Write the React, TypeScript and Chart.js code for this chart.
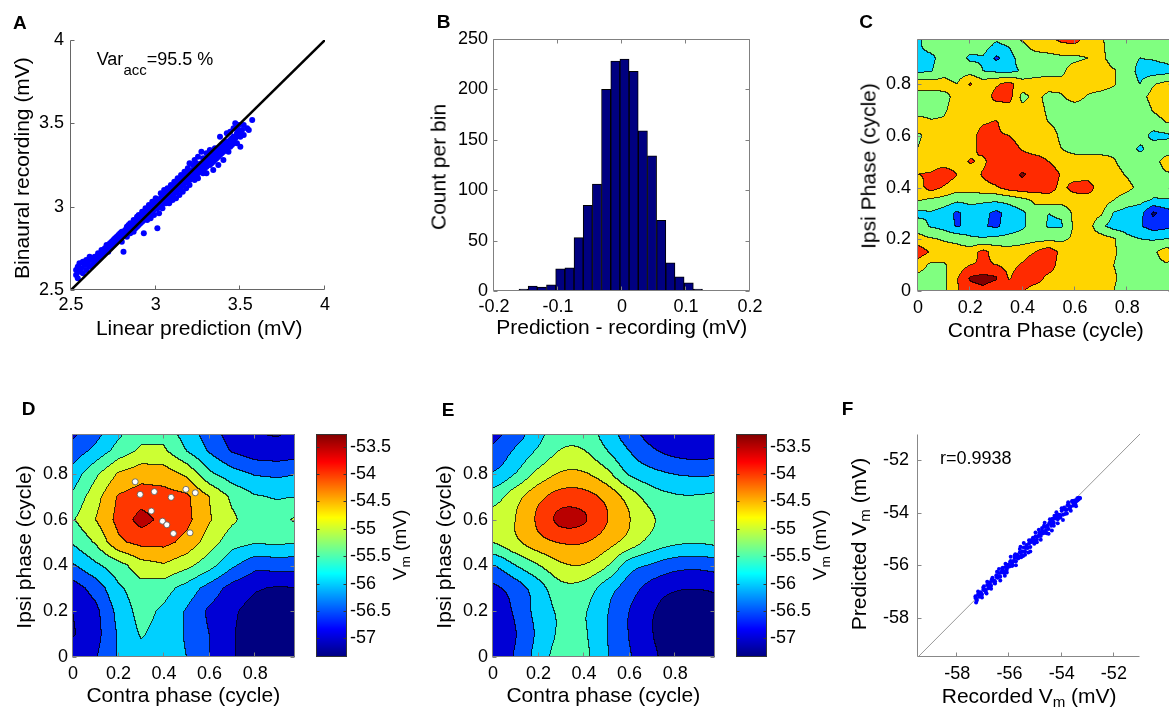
import React, { useEffect, useRef } from "react";
import { Chart, registerables } from "chart.js";
Chart.register(...registerables);

const FONT = "'Liberation Sans', Arial, Helvetica, sans-serif";

// ---------------- DATA ----------------
// A: linear prediction (x) vs binaural recording (y), mV
const scatterA: [number, number][] = [
[2.53,2.59],[2.53,2.62],[2.54,2.57],[2.54,2.64],[2.55,2.61],[2.55,2.66],[2.56,2.63],[2.57,2.6],[2.57,2.67],[2.58,2.65],
[2.59,2.62],[2.59,2.68],[2.6,2.66],[2.61,2.64],[2.61,2.7],[2.62,2.68],[2.63,2.65],[2.64,2.7],[2.64,2.67],[2.65,2.69],
[2.66,2.72],[2.66,2.68],[2.67,2.7],[2.68,2.74],[2.68,2.71],[2.69,2.72],[2.7,2.75],[2.7,2.72],[2.71,2.74],[2.71,2.77],
[2.72,2.73],[2.72,2.76],[2.73,2.78],[2.73,2.75],[2.74,2.76],[2.74,2.79],[2.75,2.77],[2.75,2.8],[2.76,2.81],[2.76,2.78],
[2.77,2.79],[2.77,2.82],[2.78,2.8],[2.78,2.83],[2.79,2.81],[2.79,2.84],[2.8,2.82],[2.8,2.85],[2.8,2.79],[2.81,2.73],
[2.81,2.84],[2.82,2.83],[2.82,2.86],[2.83,2.85],[2.83,2.88],[2.83,2.82],[2.84,2.86],[2.84,2.89],[2.85,2.87],[2.85,2.84],
[2.85,2.9],[2.86,2.88],[2.86,2.86],[2.87,2.89],[2.87,2.92],[2.87,2.85],[2.88,2.9],[2.88,2.87],[2.89,2.91],[2.89,2.94],
[2.89,2.88],[2.9,2.92],[2.9,2.89],[2.9,2.95],[2.91,2.93],[2.91,2.9],[2.92,2.94],[2.92,2.91],[2.92,2.97],[2.93,2.95],
[2.93,2.92],[2.93,2.84],[2.94,2.96],[2.94,2.93],[2.94,2.99],[2.95,2.97],[2.95,2.94],[2.95,2.92],[2.96,2.98],[2.96,2.95],
[2.96,3.01],[2.97,2.99],[2.97,2.96],[2.97,2.93],[2.98,3.0],[2.98,2.97],[2.98,3.03],[2.99,3.01],[2.99,2.98],[2.99,2.95],
[3.0,3.02],[3.0,2.99],[3.0,3.05],[3.01,2.87],[3.01,3.03],[3.01,2.99],[3.02,3.04],[3.02,3.0],[3.02,2.96],[3.03,3.05],
[3.03,3.01],[3.03,3.08],[3.04,3.06],[3.04,3.02],[3.04,2.99],[3.05,3.07],[3.05,3.03],[3.05,3.1],[3.06,3.06],[3.06,3.02],
[3.07,3.08],[3.07,3.04],[3.07,3.11],[3.08,3.09],[3.08,3.05],[3.08,3.02],[3.09,3.1],[3.09,3.06],[3.09,3.13],[3.1,3.11],
[3.1,3.07],[3.1,3.04],[3.11,3.12],[3.11,3.08],[3.11,3.15],[3.12,3.12],[3.12,3.09],[3.12,3.05],[3.13,3.14],[3.13,3.1],
[3.13,3.17],[3.14,3.14],[3.14,3.11],[3.14,3.07],[3.15,3.16],[3.15,3.12],[3.15,3.19],[3.16,3.16],[3.16,3.13],[3.16,3.09],
[3.17,3.18],[3.17,3.14],[3.17,3.21],[3.18,3.18],[3.18,3.15],[3.18,3.11],[3.19,3.2],[3.19,3.16],[3.19,3.23],[3.2,3.19],
[3.2,3.16],[3.2,3.13],[3.2,3.26],[3.21,3.21],[3.21,3.17],[3.22,3.22],[3.22,3.18],[3.22,3.25],[3.23,3.2],[3.23,3.16],
[3.23,3.28],[3.24,3.23],[3.24,3.19],[3.24,3.26],[3.25,3.24],[3.25,3.2],[3.25,3.17],[3.25,3.3],[3.26,3.25],[3.26,3.21],
[3.27,3.26],[3.27,3.22],[3.27,3.33],[3.28,3.25],[3.28,3.2],[3.28,3.29],[3.29,3.27],[3.29,3.23],[3.3,3.28],[3.3,3.24],
[3.3,3.2],[3.3,3.32],[3.31,3.27],[3.31,3.3],[3.32,3.29],[3.32,3.25],[3.32,3.34],[3.33,3.3],[3.33,3.26],[3.34,3.31],
[3.34,3.27],[3.34,3.22],[3.35,3.32],[3.35,3.28],[3.35,3.35],[3.36,3.33],[3.36,3.29],[3.37,3.34],[3.37,3.3],[3.37,3.25],
[3.38,3.35],[3.38,3.31],[3.38,3.42],[3.39,3.36],[3.39,3.32],[3.4,3.37],[3.4,3.33],[3.4,3.28],[3.41,3.38],[3.41,3.34],
[3.42,3.39],[3.42,3.35],[3.42,3.44],[3.43,3.37],[3.43,3.33],[3.44,3.4],[3.44,3.36],[3.44,3.45],[3.45,3.41],[3.45,3.37],
[3.46,3.42],[3.46,3.38],[3.46,3.47],[3.47,3.41],[3.47,3.5],[3.48,3.44],[3.48,3.38],[3.48,3.47],[3.49,3.43],[3.49,3.49],
[3.5,3.45],[3.5,3.42],[3.5,3.36],[3.51,3.46],[3.52,3.43],[3.52,3.49],[3.54,3.47],[3.55,3.46],[3.57,3.52]
];
const identityA: [number, number][] = [[2.5, 2.5], [4, 4]];
const ticksA = [2.5, 3, 3.5, 4];

// B: histogram of prediction - recording (mV)
const binCentersB = [-0.1538,-0.1395,-0.1252,-0.1108,-0.0965,-0.0821,-0.0678,-0.0535,-0.0391,-0.0248,
  -0.0104,0.0039,0.0182,0.0326,0.0469,0.0613,0.0756,0.0899,0.1043,0.1186];
const countsB = [2,5,4,6,22,23,53,85,106,200,228,230,218,159,134,70,28,14,8,2];
const ticksBx = [-0.2, -0.1, 0, 0.1, 0.2];
const ticksBy = [0, 50, 100, 150, 200, 250];

// C: residual map, rows = ipsi phase 0..1 (step 0.05), cols = contra phase 0..1 (step 0.05)
const residualStep = 0.05;
const residualC: number[][] = [
[0.2,0.2,0.3,1.4,2.2,2.3,2.0,2.0,1.6,1.0,1.0,1.0,1.0,1.0,0.8,0.5,0.1,0.0,0.0,0.2,0.2],
[0.2,0.1,0.3,1.4,2.6,2.8,2.6,1.4,2.1,2.0,1.2,1.0,1.0,1.0,0.9,0.6,0.2,0.0,0.0,0.1,0.1],
[1.0,0.3,0.4,0.9,1.5,1.6,1.5,1.2,1.6,2.2,2.1,1.0,1.0,1.0,0.8,0.5,0.1,0.0,0.2,0.4,0.2],
[2.1,1.4,1.0,1.0,1.0,1.8,1.1,1.0,1.1,1.5,2.2,1.2,1.0,1.0,0.9,0.6,0.2,0.1,0.3,1.0,0.5],
[0.9,0.6,0.4,0.2,-0.3,-0.4,-0.2,-0.2,0.0,0.2,0.2,0.3,0.7,1.0,1.0,0.6,-0.2,-0.5,-0.6,-0.5,-0.3],
[0.0,-0.6,-0.9,-1.6,-1.2,-1.4,-1.7,-1.0,-0.7,0.0,-0.6,-0.6,0.7,1.0,-0.3,-0.9,-1.0,-1.4,-2.0,-1.8,-1.5],
[-0.8,-0.6,-1.0,-1.7,-1.0,-1.2,-1.8,-1.1,-0.7,0.1,-0.5,-0.4,0.8,1.0,0.7,-0.6,-0.9,-1.1,-2.7,-2.0,-1.6],
[0.6,0.3,0.1,-0.3,-0.2,-0.3,-0.3,-0.2,0.2,0.7,1.0,1.0,1.0,1.0,1.0,0.5,0.0,-0.2,-0.6,-0.6,-0.4],
[1.0,2.0,1.4,1.0,1.0,1.2,1.4,2.0,2.2,2.1,2.0,1.2,1.9,2.0,1.0,1.0,0.8,0.2,0.0,0.1,0.1],
[1.5,1.6,2.1,1.5,1.0,1.6,2.1,2.2,2.6,2.2,2.1,1.4,1.0,1.0,1.0,0.9,0.4,0.0,0.0,0.4,0.5],
[1.0,1.0,1.0,1.0,1.6,1.3,2.0,2.1,2.0,2.0,1.5,1.0,1.0,1.0,1.0,0.6,0.0,0.0,0.1,0.9,0.8],
[0.5,0.8,1.0,1.0,1.2,1.8,2.0,2.0,1.4,1.0,1.0,0.5,0.1,0.0,0.0,0.2,0.0,-0.7,0.0,0.0,0.2],
[0.4,0.7,1.0,1.0,1.0,2.0,1.6,1.5,1.0,1.0,1.0,0.3,0.0,0.0,0.0,0.0,0.0,0.0,-0.8,-0.7,-0.3],
[0.9,0.6,0.6,0.8,1.0,1.4,1.6,1.0,1.0,1.0,0.5,0.2,0.0,0.0,0.0,0.0,0.0,-0.4,0.0,0.5,0.6],
[0.1,0.2,0.4,0.8,1.0,1.0,1.0,1.0,0.8,1.0,0.3,0.0,0.0,0.0,0.0,0.0,0.0,-0.4,0.6,1.0,1.0],
[0.0,0.0,0.3,0.7,0.9,1.0,1.8,1.9,0.2,0.8,0.2,0.4,0.9,0.4,0.1,0.0,0.0,0.1,0.9,1.0,0.8],
[1.0,1.0,0.8,0.5,1.6,1.0,1.4,1.8,1.0,1.0,1.0,0.8,1.0,1.0,1.0,0.6,0.0,-0.5,0.4,0.8,0.6],
[-0.7,-0.6,0.2,0.0,0.1,-0.5,-0.7,-0.8,-0.4,0.0,0.1,0.3,0.9,1.0,1.0,0.6,0.0,-0.8,-1.0,-0.9,-0.5],
[-0.8,-0.8,0.0,0.0,-0.7,-0.6,-1.7,-0.9,0.0,0.1,0.2,0.3,0.3,0.5,0.8,0.0,-0.2,-0.5,-0.4,-0.2,0.0],
[-0.7,0.0,0.0,0.0,0.0,0.0,-0.7,-0.4,0.3,0.9,1.0,1.3,1.4,1.0,0.7,0.0,0.0,-0.2,0.0,-0.4,0.0],
[-0.8,0.0,0.8,0.0,0.0,0.0,0.0,0.8,1.0,1.0,1.2,2.4,2.4,1.0,0.6,0.0,0.0,0.0,0.0,-0.6,0.0]
];
const levelsC = [-2.5, -1.5, -0.5, 0.5, 1.5, 2.5];
const phaseTicks = [0, 0.2, 0.4, 0.6, 0.8];

// D / E: Vm maps (mV), rows = ipsi phase 0..1 (step 0.1), cols = contra phase 0..1 (step 0.1)
const vmStep = 0.1;
const recordedVm: number[][] = [
[-56.75,-56.55,-55.95,-55.7,-55.75,-56.0,-56.5,-56.95,-57.25,-57.3,-57.3],
[-57.05,-56.7,-55.95,-55.45,-55.7,-56.05,-56.5,-56.95,-57.3,-57.33,-57.3],
[-57.0,-56.65,-55.85,-55.3,-55.6,-56.05,-56.6,-56.92,-57.2,-57.3,-57.25],
[-56.75,-56.3,-55.6,-55.2,-55.3,-55.7,-56.2,-56.7,-56.95,-57.05,-57.0],
[-56.05,-55.6,-55.2,-54.7,-54.55,-54.85,-55.3,-55.9,-56.35,-56.3,-56.3],
[-55.45,-54.95,-54.1,-53.85,-53.85,-54.15,-54.75,-55.3,-55.45,-55.4,-55.5],
[-55.05,-54.5,-53.85,-53.3,-53.65,-53.85,-54.45,-54.9,-55.3,-55.2,-54.85],
[-55.4,-54.7,-53.95,-53.75,-53.8,-53.9,-54.5,-55.1,-55.45,-55.55,-55.5],
[-55.8,-55.1,-54.45,-54.2,-54.25,-54.6,-55.4,-55.8,-56.05,-56.1,-56.0],
[-56.3,-55.85,-55.3,-54.9,-54.9,-55.5,-56.05,-56.55,-56.8,-56.85,-56.75],
[-56.7,-56.3,-55.7,-55.25,-55.3,-55.8,-56.3,-56.8,-57.05,-57.1,-56.9]
];
const modelVm: number[][] = [
[-56.85,-56.45,-55.8,-55.3,-55.38,-55.95,-56.45,-56.9,-57.2,-57.28,-57.2],
[-56.9,-56.52,-55.9,-55.42,-55.44,-55.97,-56.52,-56.98,-57.28,-57.33,-57.2],
[-56.85,-56.42,-55.82,-55.42,-55.45,-55.95,-56.5,-56.95,-57.25,-57.3,-57.15],
[-56.6,-56.25,-55.72,-55.15,-55.2,-55.75,-56.25,-56.7,-56.93,-56.97,-56.9],
[-56.0,-55.5,-55.02,-54.58,-54.52,-54.95,-55.75,-56.05,-56.3,-56.35,-56.25],
[-55.0,-54.62,-54.2,-53.97,-53.98,-54.3,-54.72,-55.2,-55.42,-55.47,-55.4],
[-54.8,-54.5,-53.92,-53.38,-53.45,-53.97,-54.48,-54.95,-55.22,-55.28,-55.15],
[-55.25,-54.7,-54.15,-53.8,-53.82,-54.15,-54.72,-55.25,-55.45,-55.47,-55.4],
[-55.95,-55.48,-54.85,-54.45,-54.45,-54.85,-55.55,-55.85,-56.02,-56.08,-56.05],
[-56.4,-55.92,-55.42,-54.97,-54.98,-55.47,-56.0,-56.42,-56.65,-56.72,-56.65],
[-56.65,-56.35,-55.7,-55.25,-55.3,-55.75,-56.35,-56.75,-56.9,-56.9,-56.8]
];
const vmLevels = [-57, -56.5, -56, -55.5, -55, -54.5, -54, -53.5];
const vmTicks = [-53.5, -54, -54.5, -55, -55.5, -56, -56.5, -57];
const vmRange = [-57.34, -53.27];
const peakMarkersD: [number, number][] = [
[0.273,0.766],[0.295,0.711],[0.357,0.723],[0.431,0.698],[0.496,0.733],[0.537,0.718],
[0.344,0.638],[0.393,0.594],[0.412,0.578],[0.441,0.54],[0.514,0.543]
];

// F: recorded vs predicted Vm (mV)
const scatterF: [number, number][] = [
[-57.3,-57.25],[-57.25,-57.29],[-57.2,-57.12],[-57.15,-57.17],[-57.1,-57.07],[-57.05,-57.12],[-57.0,-56.94],[-56.95,-56.95],
[-56.9,-56.95],[-56.85,-56.76],[-56.8,-56.83],[-56.75,-56.71],[-56.7,-56.78],[-56.65,-56.58],[-56.6,-56.59],[-56.55,-56.61],
[-56.5,-56.45],[-56.45,-56.46],[-56.4,-56.3],[-56.35,-56.44],[-56.3,-56.28],[-56.25,-56.19],[-56.2,-56.24],[-56.15,-56.07],
[-56.1,-56.17],[-56.05,-56.02],[-56.0,-56.02],[-55.95,-55.84],[-55.9,-55.95],[-55.85,-55.85],[-55.8,-55.73],[-55.75,-55.85],
[-55.7,-55.66],[-55.65,-55.68],[-55.6,-55.51],[-55.55,-55.61],[-55.5,-55.49],[-55.45,-55.33],[-55.4,-55.48],[-55.35,-55.3],
[-55.3,-55.32],[-55.25,-55.17],[-55.2,-55.31],[-55.15,-55.12],[-55.1,-55.04],[-55.05,-55.1],[-55.0,-54.9],[-54.95,-55.02],
[-54.9,-54.9],[-54.85,-54.81],[-54.8,-54.89],[-54.75,-54.68],[-54.7,-54.73],[-54.65,-54.54],[-54.6,-54.66],[-54.55,-54.53],
[-54.5,-54.62],[-54.45,-54.37],[-54.4,-54.44],[-54.35,-54.3],[-54.3,-54.38],[-54.25,-54.22],[-54.2,-54.11],[-54.15,-54.25],
[-54.1,-54.09],[-54.05,-54.1],[-54.0,-53.93],[-53.95,-54.08],[-53.9,-53.86],[-53.85,-53.87],[-53.8,-53.89],[-53.75,-53.69],
[-53.7,-53.76],[-53.65,-53.76],[-53.6,-53.58],[-53.55,-53.62],[-53.5,-53.53],[-53.45,-53.57],[-53.4,-53.45],[-53.35,-53.44],
[-53.3,-53.44],
[-57.3,-57.18],[-57.25,-57.35],[-57.2,-57.0],[-57.15,-57.2],[-57.1,-57.03],[-57.05,-57.23],[-57.0,-56.85],[-56.95,-56.95],
[-56.9,-57.03],[-56.85,-56.63],[-56.8,-56.88],[-56.75,-56.65],[-56.7,-56.9],[-56.65,-56.48],[-56.6,-56.58],[-56.55,-56.7],
[-56.5,-56.38],[-56.45,-56.48],[-56.4,-56.15],[-56.35,-56.58],[-56.3,-56.25],[-56.25,-56.1],[-56.2,-56.3],[-56.15,-55.95],
[-56.1,-56.28],[-56.05,-55.98],[-56.0,-56.05],[-55.95,-55.68],[-55.9,-56.03],[-55.85,-55.85],[-55.8,-55.63],[-55.75,-56.0],
[-55.7,-55.6],[-55.65,-55.73],[-55.6,-55.38],[-55.55,-55.7],[-55.5,-55.48],[-55.45,-55.15],[-55.4,-55.6],[-55.35,-55.23],
[-55.3,-55.35],[-55.25,-55.05],[-55.2,-55.48],[-55.15,-55.08],[-55.1,-54.95],[-55.05,-55.18],[-55.0,-54.75],[-54.95,-55.13],
[-54.9,-54.9],[-54.85,-54.75],[-54.8,-55.03],[-54.75,-54.58],[-54.7,-54.78],[-54.65,-54.38],[-54.6,-54.75],[-54.55,-54.5],
[-54.5,-54.8],[-54.45,-54.25],[-54.4,-54.5],[-54.35,-54.23],[-54.3,-54.5],[-54.25,-54.18],[-54.2,-53.98],[-54.15,-54.4],
[-54.1,-54.08],[-54.05,-54.18],[-54.0,-53.83],[-53.95,-54.28],[-53.9,-53.8],[-53.85,-53.9],[-53.8,-54.03],[-53.75,-53.6],
[-53.7,-53.85],[-53.65,-53.93],[-53.6,-53.55],[-53.55,-53.73],[-53.5,-53.58],[-53.45,-53.75],[-53.4,-53.53],[-53.35,-53.5],
[-53.3,-53.45],
[-57.275,-57.42],[-57.175,-57.1],[-57.075,-57.1],[-56.975,-56.8],[-56.875,-57.08],[-56.775,-56.72],[-56.675,-56.55],
[-56.575,-56.68],[-56.475,-56.25],[-56.375,-56.42],[-56.275,-56.12],[-56.175,-56.4],[-56.075,-56.08],[-55.975,-55.88],
[-55.875,-56.0],[-55.775,-55.58],[-55.675,-55.75],[-55.575,-55.3],[-55.475,-55.65],[-55.375,-55.35],[-55.275,-55.52],
[-55.175,-55.05],[-55.075,-55.02],[-54.975,-55.12],[-54.875,-54.65],[-54.775,-54.8],[-54.675,-54.5],[-54.575,-54.78],
[-54.475,-54.4],[-54.375,-54.68],[-54.275,-54.12],[-54.175,-54.18],[-54.075,-54.18],[-53.975,-53.85],[-53.875,-54.05],
[-53.775,-53.72],[-53.675,-53.8],[-53.575,-53.55],[-53.475,-53.68],[-53.375,-53.45]
];
const identityF: [number, number][] = [[-59.5, -59.5], [-51, -51]];
const ticksF = [-58, -56, -54, -52];

// ---------------- helpers ----------------
type Frame = { L: number; T: number; R: number; B: number };

function jet(t: number): number[] {
  const c = (v: number) => Math.max(0, Math.min(1, v));
  return [c(1.5 - Math.abs(4 * t - 3)), c(1.5 - Math.abs(4 * t - 2)), c(1.5 - Math.abs(4 * t - 1))];
}
const to255 = (c: number[]) => c.map((v) => Math.round(v * 255));
const vmBounds = [vmRange[0], ...vmLevels];
const vmFill = vmBounds.map((v) => to255(jet((v - vmRange[0]) / (vmRange[1] - vmRange[0]))));
const cFill = [0, 1, 2, 3, 4, 5, 6].map((k) => to255(jet(k / 6)));

function bilinear(g: number[][], step: number, x: number, y: number) {
  const nx = g[0].length, ny = g.length;
  const fx = x / step, fy = y / step;
  const i = Math.min(Math.max(Math.floor(fx), 0), nx - 2);
  const j = Math.min(Math.max(Math.floor(fy), 0), ny - 2);
  const tx = fx - i, ty = fy - j;
  return g[j][i] * (1 - tx) * (1 - ty) + g[j][i + 1] * tx * (1 - ty) + g[j + 1][i] * (1 - tx) * ty + g[j + 1][i + 1] * tx * ty;
}
function cr(p0: number, p1: number, p2: number, p3: number, t: number) {
  return 0.5 * (2 * p1 + (-p0 + p2) * t + (2 * p0 - 5 * p1 + 4 * p2 - p3) * t * t + (-p0 + 3 * p1 - 3 * p2 + p3) * t * t * t);
}
function bicubic(g: number[][], step: number, x: number, y: number) {
  const nx = g[0].length, ny = g.length;
  const fx = x / step, fy = y / step;
  const i = Math.min(Math.max(Math.floor(fx), 0), nx - 2);
  const j = Math.min(Math.max(Math.floor(fy), 0), ny - 2);
  const tx = fx - i, ty = fy - j;
  const G = (jj: number, ii: number) => g[Math.min(Math.max(jj, 0), ny - 1)][Math.min(Math.max(ii, 0), nx - 1)];
  const row = (jj: number) => cr(G(jj, i - 1), G(jj, i), G(jj, i + 1), G(jj, i + 2), tx);
  return cr(row(j - 1), row(j), row(j + 1), row(j + 2), ty);
}

function fieldPlugin(sample: (x: number, y: number) => number, levels: number[], fills: number[][]) {
  return {
    id: "field",
    beforeDatasetsDraw(chart: any) {
      const { ctx, chartArea: a, scales } = chart;
      const xs = scales.x, ys = scales.y;
      const x0 = Math.round(a.left), y0 = Math.round(a.top);
      const w = Math.round(a.right) - x0, h = Math.round(a.bottom) - y0;
      const lv = new Uint8Array(w * h);
      const xv = new Float64Array(w);
      for (let px = 0; px < w; px++) xv[px] = xs.getValueForPixel(x0 + px + 0.5);
      for (let py = 0; py < h; py++) {
        const yv = ys.getValueForPixel(y0 + py + 0.5);
        for (let px = 0; px < w; px++) {
          const v = sample(xv[px], yv);
          let k = 0;
          while (k < levels.length && v >= levels[k]) k++;
          lv[py * w + px] = k;
        }
      }
      const img = ctx.createImageData(w, h);
      for (let py = 0; py < h; py++) {
        for (let px = 0; px < w; px++) {
          const i = py * w + px;
          const k = lv[i];
          const col = fills[k];
          const edge = (px < w - 1 && lv[i + 1] !== k) || (py < h - 1 && lv[i + w] !== k);
          const f = edge ? 0.22 : 1;
          img.data[i * 4] = col[0] * f;
          img.data[i * 4 + 1] = col[1] * f;
          img.data[i * 4 + 2] = col[2] * f;
          img.data[i * 4 + 3] = 255;
        }
      }
      ctx.putImageData(img, x0, y0);
    },
  };
}

function framePlugin(box: boolean, color = "#808080", len = 4) {
  return {
    id: "frame",
    afterDatasetsDraw(chart: any) {
      const { ctx, chartArea: a, scales } = chart;
      const xs = scales.x, ys = scales.y;
      const l = Math.round(a.left) - 0.5, r = Math.round(a.right) - 0.5;
      const t = Math.round(a.top) + 0.5, b = Math.round(a.bottom) - 0.5;
      ctx.save();
      ctx.strokeStyle = color;
      ctx.lineWidth = 1;
      ctx.beginPath();
      if (box) {
        ctx.rect(l, t, r - l, b - t);
      } else {
        ctx.moveTo(l, t); ctx.lineTo(l, b); ctx.lineTo(r, b);
      }
      for (const tk of xs.ticks) {
        const px = Math.round(xs.getPixelForValue(tk.value)) - 0.5;
        ctx.moveTo(px, b); ctx.lineTo(px, b - len);
        if (box) { ctx.moveTo(px, t); ctx.lineTo(px, t + len); }
      }
      for (const tk of ys.ticks) {
        const py = Math.round(ys.getPixelForValue(tk.value)) + 0.5;
        ctx.moveTo(l, py); ctx.lineTo(l + len, py);
        if (box) { ctx.moveTo(r, py); ctx.lineTo(r - len, py); }
      }
      ctx.stroke();
      ctx.restore();
    },
  };
}

function axis(pos: string, min: number, max: number, ticks: number[], pad: number, size: number) {
  return {
    type: "linear",
    position: pos,
    min,
    max,
    offset: false,
    grid: { display: false, drawTicks: false },
    border: { display: false },
    ticks: {
      padding: pad,
      color: "#000",
      font: { family: FONT, size: 18 },
      autoSkip: false,
      maxRotation: 0,
      callback: (v: any) => String(v),
    },
    afterBuildTicks: (s: any) => { s.ticks = ticks.map((value) => ({ value })); },
    afterFit: (s: any) => {
      if (pos === "left" || pos === "right") s.width = size; else s.height = size;
    },
  };
}

const pts = (arr: [number, number][]) => arr.map(([x, y]) => ({ x, y }));

function PanelChart({ f, W, H, padTop = 22, padRight = 20, make }: { f: Frame; W: number; H: number; padTop?: number; padRight?: number; make: () => any }) {
  const ref = useRef<HTMLCanvasElement>(null);
  const cw = Math.round(W + (f.R - f.L) + padRight);
  const ch = Math.round(padTop + (f.B - f.T) + H);
  useEffect(() => {
    const cfg = make();
    cfg.options = {
      ...(cfg.options || {}),
      responsive: false,
      animation: false,
      devicePixelRatio: 1,
      events: [],
      layout: { padding: { top: padTop, right: padRight, left: 0, bottom: 0 } },
      plugins: { legend: { display: false }, tooltip: { enabled: false } },
    };
    const chart = new Chart(ref.current as HTMLCanvasElement, cfg);
    return () => chart.destroy();
  }, []);
  return <canvas ref={ref} width={cw} height={ch} style={{ position: "absolute", left: f.L - W, top: f.T - padTop, width: cw, height: ch }} />;
}

function Colorbar({ f, W }: { f: Frame; W: number }) {
  const ref = useRef<HTMLCanvasElement>(null);
  const pad = 16;
  const cw = Math.round(f.R - f.L + W);
  const ch = Math.round(f.B - f.T + 2 * pad);
  useEffect(() => {
    const grad = {
      id: "grad",
      beforeDatasetsDraw(chart: any) {
        const { ctx, chartArea: a, scales } = chart;
        const ys = scales.y;
        for (let py = Math.round(a.top); py < Math.round(a.bottom); py++) {
          const v = ys.getValueForPixel(py + 0.5);
          const c = to255(jet((v - vmRange[0]) / (vmRange[1] - vmRange[0])));
          ctx.fillStyle = `rgb(${c[0]},${c[1]},${c[2]})`;
          ctx.fillRect(a.left, py, a.right - a.left, 1);
        }
      },
      afterDatasetsDraw(chart: any) {
        const { ctx, chartArea: a, scales } = chart;
        const ys = scales.y;
        const l = Math.round(a.left) + 0.5, r = Math.round(a.right) - 0.5;
        const t = Math.round(a.top) + 0.5, b = Math.round(a.bottom) - 0.5;
        ctx.save();
        ctx.strokeStyle = "#333";
        ctx.lineWidth = 1;
        ctx.beginPath();
        ctx.rect(l, t, r - l, b - t);
        for (const tk of ys.ticks) {
          const py = Math.round(ys.getPixelForValue(tk.value)) + 0.5;
          ctx.moveTo(l, py); ctx.lineTo(l + 3, py);
          ctx.moveTo(r, py); ctx.lineTo(r - 3, py);
        }
        ctx.stroke();
        ctx.restore();
      },
    };
    const chart = new Chart(ref.current as HTMLCanvasElement, {
      type: "scatter",
      data: { datasets: [{ data: [] }] },
      options: {
        responsive: false,
        animation: false,
        devicePixelRatio: 1,
        events: [],
        layout: { padding: { top: pad, bottom: pad, left: 0, right: 0 } },
        plugins: { legend: { display: false }, tooltip: { enabled: false } },
        scales: {
          x: { type: "linear", display: false, min: 0, max: 1 },
          y: axis("right", vmRange[0], vmRange[1], vmTicks, 3, W) as any,
        },
      },
      plugins: [grad],
    } as any);
    return () => chart.destroy();
  }, []);
  return <canvas ref={ref} width={cw} height={ch} style={{ position: "absolute", left: f.L, top: f.T - pad, width: cw, height: ch }} />;
}

const Txt = ({ x, y, size = 21, rot = false, left = false, bold = false, children }: any) => (
  <div
    style={{
      position: "absolute",
      left: x,
      top: y,
      transform: `translate(${left ? "0" : "-50%"}, -50%)${rot ? " rotate(-90deg)" : ""}`,
      fontFamily: FONT,
      fontSize: size,
      lineHeight: 1,
      whiteSpace: "nowrap",
      fontWeight: bold ? "bold" : "normal",
      color: "#000",
    }}
  >
    {children}
  </div>
);
const Sub = ({ children, size = "0.72em", drop = "-0.3em" }: any) => (
  <span style={{ fontSize: size, verticalAlign: drop, lineHeight: 0 }}>{children}</span>
);

// ---------------- panels ----------------
const fA: Frame = { L: 71, T: 40, R: 325, B: 290 };
const fB: Frame = { L: 494, T: 39, R: 750, B: 291 };
const fC: Frame = { L: 918, T: 39, R: 1173, B: 291 };
const fD: Frame = { L: 73, T: 434, R: 295, B: 657 };
const fDc: Frame = { L: 316, T: 434, R: 347, B: 657 };
const fE: Frame = { L: 493, T: 434, R: 715, B: 657 };
const fEc: Frame = { L: 736, T: 434, R: 767, B: 657 };
const fF: Frame = { L: 918, T: 434, R: 1140, B: 657 };

const makeA = () => ({
  type: "scatter",
  data: {
    datasets: [
      { data: pts(identityA), showLine: true, borderColor: "#000", borderWidth: 2.5, pointRadius: 0 },
      { data: pts(scatterA), pointRadius: 3, backgroundColor: "#0000ff", borderWidth: 0 },
    ],
  },
  options: { scales: { x: axis("bottom", 2.5, 4, ticksA, 4, 30), y: axis("left", 2.5, 4, ticksA, 7, 45) } },
  plugins: [framePlugin(false, "#666")],
});

const makeB = () => ({
  type: "bar",
  data: {
    datasets: [
      {
        data: binCentersB.map((x, i) => ({ x, y: countsB[i] })),
        backgroundColor: "#000080",
        borderColor: "#000",
        borderWidth: 1,
        borderSkipped: false,
        barPercentage: 1,
        categoryPercentage: 1,
      },
    ],
  },
  options: { scales: { x: axis("bottom", -0.2, 0.2, ticksBx, 5, 30), y: axis("left", 0, 250, ticksBy, 6, 50) } },
  plugins: [framePlugin(true)],
});

const makeC = () => ({
  type: "scatter",
  data: { datasets: [{ data: [] }] },
  options: { scales: { x: axis("bottom", 0, 0.975, phaseTicks, 6, 30), y: axis("left", 0, 0.975, phaseTicks, 7, 50) } },
  plugins: [fieldPlugin((x, y) => bilinear(residualC, residualStep, x, y), levelsC, cFill), framePlugin(true)],
});

const makeD = () => ({
  type: "scatter",
  data: {
    datasets: [
      { data: pts(peakMarkersD), pointRadius: 3, backgroundColor: "#ffffff", borderColor: "#555", borderWidth: 0.8 },
    ],
  },
  options: { scales: { x: axis("bottom", 0, 0.975, phaseTicks, 6, 30), y: axis("left", 0, 0.975, phaseTicks, 5, 50) } },
  plugins: [fieldPlugin((x, y) => bilinear(recordedVm, vmStep, x, y), vmLevels, vmFill), framePlugin(true)],
});

const makeE = () => ({
  type: "scatter",
  data: { datasets: [{ data: [] }] },
  options: { scales: { x: axis("bottom", 0, 0.975, phaseTicks, 6, 30), y: axis("left", 0, 0.975, phaseTicks, 5, 50) } },
  plugins: [fieldPlugin((x, y) => bicubic(modelVm, vmStep, x, y), vmLevels, vmFill), framePlugin(true)],
});

const makeF = () => ({
  type: "scatter",
  data: {
    datasets: [
      { data: pts(scatterF), pointRadius: 2, backgroundColor: "#0000ff", borderWidth: 0 },
      { data: pts(identityF), showLine: true, borderColor: "#999", borderWidth: 1, pointRadius: 0 },
    ],
  },
  options: { scales: { x: axis("bottom", -59.5, -51, ticksF, 6, 30), y: axis("left", -59.5, -51, ticksF, 9, 50) } },
  plugins: [framePlugin(false, "#888")],
});

export default function App() {
  return (
    <div style={{ position: "absolute", left: 0, top: 0, width: 1169, height: 711, overflow: "hidden", background: "#fff" }}>
      <PanelChart f={fA} W={45} H={30} padRight={14} make={makeA} />
      <PanelChart f={fB} W={50} H={30} padRight={20} make={makeB} />
      <PanelChart f={fC} W={50} H={30} padRight={0} make={makeC} />
      <PanelChart f={fD} W={50} H={30} padRight={8} make={makeD} />
      <Colorbar f={fDc} W={58} />
      <PanelChart f={fE} W={50} H={30} padRight={8} make={makeE} />
      <Colorbar f={fEc} W={58} />
      <PanelChart f={fF} W={50} H={30} padRight={10} make={makeF} />

      <Txt x={13} y={21.5} size={19} bold left>A</Txt>
      <Txt x={436.7} y={21} size={19} bold left>B</Txt>
      <Txt x={859.3} y={21} size={19} bold left>C</Txt>
      <Txt x={21.7} y={408.3} size={19} bold left>D</Txt>
      <Txt x={441.7} y={408.5} size={19} bold left>E</Txt>
      <Txt x={841.7} y={408.3} size={19} bold left>F</Txt>

      <Txt x={96.7} y={60} size={18} left>
        Var<Sub size="15px" drop="-10px">acc</Sub>=95.5 %
      </Txt>
      <Txt x={199.2} y={327.1}>Linear prediction (mV)</Txt>
      <Txt x={21.4} y={167.5} rot>Binaural recording (mV)</Txt>

      <Txt x={621.7} y={326.2}>Prediction - recording (mV)</Txt>
      <Txt x={438} y={166.7} rot>Count per bin</Txt>

      <Txt x={1045.8} y={328.7}>Contra Phase (cycle)</Txt>
      <Txt x={868.1} y={165.8} rot>Ipsi Phase (cycle)</Txt>

      <Txt x={183.3} y={693.7}>Contra phase (cycle)</Txt>
      <Txt x={23.1} y={546.7} rot>Ipsi phase (cycle)</Txt>
      <Txt x={398.5} y={545} size={19} rot>
        V<Sub>m</Sub> (mV)
      </Txt>

      <Txt x={603.3} y={693.7}>Contra phase (cycle)</Txt>
      <Txt x={443.1} y={546.7} rot>Ipsi phase (cycle)</Txt>
      <Txt x={818.5} y={545} size={19} rot>
        V<Sub>m</Sub> (mV)
      </Txt>

      <Txt x={940} y={457.8} size={18} left>r=0.9938</Txt>
      <Txt x={1029.2} y={694.6}>
        Recorded V<Sub>m</Sub> (mV)
      </Txt>
      <Txt x={858.1} y={544.2} rot>
        Predicted V<Sub>m</Sub> (mV)
      </Txt>
    </div>
  );
}
